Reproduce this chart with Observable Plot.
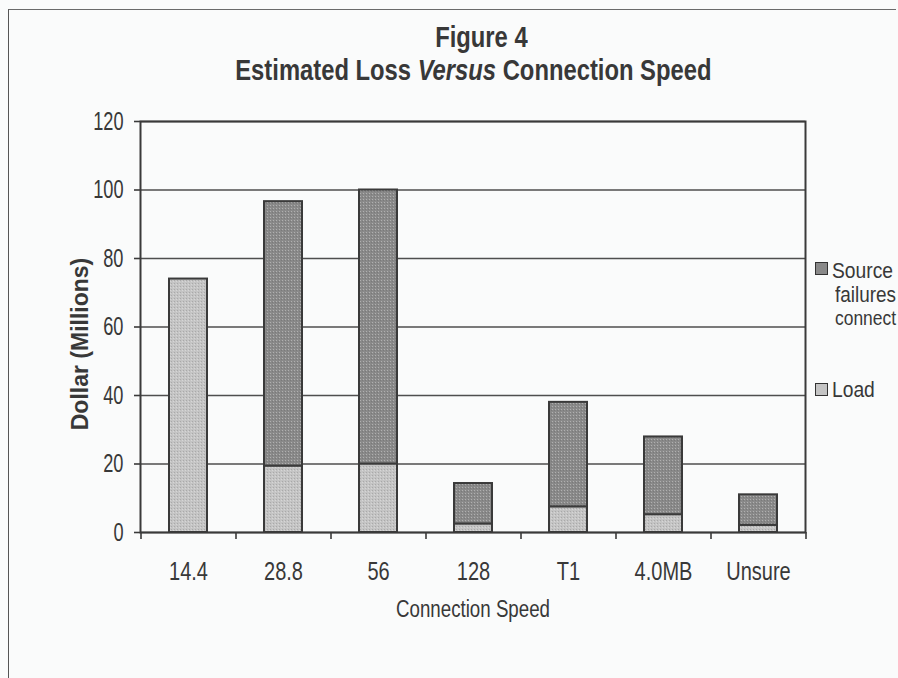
<!DOCTYPE html>
<html>
<head>
<meta charset="utf-8">
<script src="https://cdn.jsdelivr.net/npm/d3@7"></script>
<script src="https://cdn.jsdelivr.net/npm/@observablehq/plot@0.6"></script>
<style>
  html, body { margin: 0; padding: 0; background: #fafbfb; }
  #page { position: relative; width: 898px; height: 678px; overflow: hidden; background: #fafbfb;
          font-family: "Liberation Sans", Arial, sans-serif; color: #383838; }
  #frame { position: absolute; left: 8px; top: 9px; width: 888px; height: 669px;
           border-top: 1.5px solid #6a6a6a; border-left: 1.5px solid #555; box-sizing: border-box; pointer-events: none; }
  #header { position: relative; height: 100px; }
  .line { position: absolute; left: 0; text-align: center; font-weight: bold; font-size: 29px; line-height: 29px; white-space: nowrap; }
  .line span { display: inline-block; transform: scaleX(0.82); }
  .lg { position: absolute; white-space: nowrap; line-height: 1; transform-origin: 0 50%; }
  .sw { position: absolute; width: 11px; height: 11px; border: 1.5px solid #333; }
  #chart svg { display: block; }
</style>
</head>
<body>
<div id="page">
  <div id="frame"></div>
  <div id="header">
    <div class="line" style="top:23px; width:962px"><span>Figure 4</span></div>
    <div class="line" style="top:56px; width:946px"><span>Estimated Loss <i>Versus</i> Connection Speed</span></div>
  </div>
  <div id="chart"></div>
  <div id="legend"></div>
</div>
<script>
// Estimated loss (millions of dollars) by connection speed
const categories = ["14.4", "28.8", "56", "128", "T1", "4.0MB", "Unsure"];
const loadValues = [74, 19.4, 20, 2.5, 7.5, 5.2, 2.1];
const sourceValues = [0, 77.2, 80, 11.8, 30.5, 22.7, 8.9];
const seriesNames = ["Load", "Source failures connect"];
const seriesColors = ["#c4c4c4", "#898989"];
const yTicks = [0, 20, 40, 60, 80, 100, 120];

// long-format rows for stacking: Load at the bottom, source failures on top
const rows = [];
categories.forEach((c, i) => {
  rows.push({speed: c, series: seriesNames[0], value: loadValues[i]});
  rows.push({speed: c, series: seriesNames[1], value: sourceValues[i]});
});

const W = 898, H = 578;
const mL = 140, mR = 93, mT = 21, mB = 146;
const halfStep = (W - mL - mR) / categories.length / 2;
const ink = "#383838";
const lineInk = "#3a3a3a";

// stippled fills for the two series
const patternIds = ["fill-load", "fill-source"];
const patternDots = ["#a9a9a9", "#b0b0b0"];

const chart = Plot.plot({
  width: W,
  height: H,
  marginLeft: mL,
  marginRight: mR,
  marginTop: mT,
  marginBottom: mB,
  style: {
    background: "transparent",
    color: ink,
    fontFamily: '"Liberation Sans", Arial, sans-serif',
    fontSize: "25px"
  },
  x: {domain: categories, paddingInner: 0.6, paddingOuter: 0.3, label: null},
  y: {domain: [0, 120], ticks: yTicks, label: null},
  color: {domain: seriesNames, range: patternIds.map(id => `url(#${id})`)},
  marks: [
    // horizontal gridlines
    Plot.ruleY(yTicks, {stroke: "#4e4e4e", strokeWidth: 1.4}),
    // stacked bars
    Plot.barY(rows, Plot.stackY({
      order: seriesNames,
      x: "speed",
      y: "value",
      fill: "series",
      stroke: lineInk,
      strokeWidth: 2
    })),
    Plot.frame({stroke: lineInk, strokeWidth: 2}),
    // ticks between categories, below the x axis
    Plot.ruleX(categories, {x: d => d, y1: 0, y2: 0, dx: -halfStep, insetBottom: -7, stroke: lineInk, strokeWidth: 1.6}),
    Plot.ruleX(categories.slice(-1), {x: d => d, y1: 0, y2: 0, dx: halfStep, insetBottom: -7, stroke: lineInk, strokeWidth: 1.6}),
    Plot.axisY({ticks: yTicks, tickSize: 6, tickPadding: 11, label: null, stroke: lineInk, strokeWidth: 1.6, fontSize: 26}),
    Plot.axisX({tickSize: 0, tickPadding: 30, label: null}),
    // axis titles
    Plot.text(["Dollar (Millions)"], {frameAnchor: "left", rotate: -90, dx: -53, dy: 17, textAnchor: "middle", lineAnchor: "bottom", fontSize: 23, fontWeight: "bold"}),
    Plot.text(["Connection Speed"], {frameAnchor: "bottom", dy: 77, lineAnchor: "middle", fontSize: 24})
  ]
});

// pattern definitions used by the bar fills
const defs = d3.select(chart).insert("defs", ":first-child");
patternIds.forEach((id, i) => {
  const p = defs.append("pattern").attr("id", id).attr("patternUnits", "userSpaceOnUse")
    .attr("width", 3).attr("height", 3);
  p.append("rect").attr("width", 3).attr("height", 3).attr("fill", seriesColors[i]);
  p.append("rect").attr("x", 0).attr("y", 0).attr("width", 1).attr("height", 1).attr("fill", patternDots[i]);
  p.append("rect").attr("x", 2).attr("y", 1).attr("width", 1).attr("height", 1).attr("fill", i ? "#7a7a7a" : "#d6d6d6");
});
document.getElementById("chart").appendChild(chart);

// narrow the horizontal texts (condensed face look)
function condense(sel, sx) {
  chart.querySelectorAll(sel).forEach(t => {
    const tr = t.getAttribute("transform") || "";
    if (tr.includes("rotate")) return;
    const x = parseFloat(t.getAttribute("x") || "0") || 0;
    t.removeAttribute("x");
    t.setAttribute("transform", `${tr} translate(${x},0) scale(${sx},1)`);
  });
}
condense('g[aria-label="y-axis tick label"] text', 0.7);
condense('g[aria-label="x-axis tick label"] text', 0.8);
condense('g[aria-label="text"] text', 0.78);

// legend at the right of the plot
const legendItems = [
  {text: "Source", left: 832, top: 260, size: 22, sx: 0.875},
  {text: "failures", left: 835, top: 284, size: 22, sx: 0.86},
  {text: "connect", left: 835, top: 307, size: 21, sx: 0.83},
  {text: "Load", left: 832, top: 379, size: 22, sx: 0.875}
];
const swatches = [
  {color: seriesColors[1], left: 815, top: 262},
  {color: seriesColors[0], left: 815, top: 383}
];
const legend = document.getElementById("legend");
legendItems.forEach(d => {
  const el = document.createElement("div");
  el.className = "lg";
  el.textContent = d.text;
  el.style.left = d.left + "px";
  el.style.top = d.top + "px";
  el.style.fontSize = d.size + "px";
  el.style.transform = `scaleX(${d.sx})`;
  legend.appendChild(el);
});
swatches.forEach(d => {
  const el = document.createElement("div");
  el.className = "sw";
  el.style.left = d.left + "px";
  el.style.top = d.top + "px";
  el.style.background = d.color;
  legend.appendChild(el);
});
</script>
</body>
</html>
